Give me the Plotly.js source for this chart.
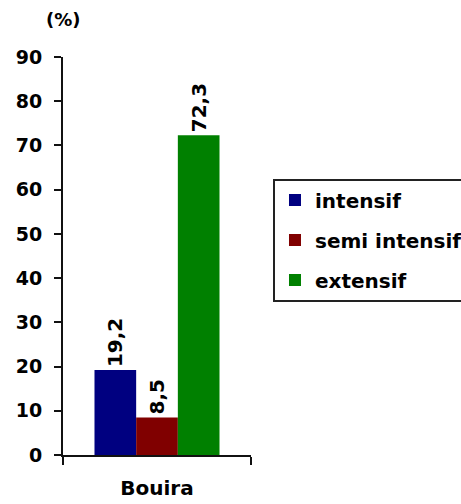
<!DOCTYPE html>
<html>
<head>
<meta charset="utf-8">
<script src="https://cdn.plot.ly/plotly-3.0.1.min.js"></script>
<style>html,body{margin:0;padding:0;background:#fff;}#chart{width:461px;height:504px;}</style>
</head>
<body>
<div id="chart"></div>
<script>
const categories = ['Bouira'];
const seriesNames = ['intensif', 'semi intensif', 'extensif'];
const intensif = [19.2];
const semiIntensif = [8.5];
const extensif = [72.3];
const yTickValues = [0, 10, 20, 30, 40, 50, 60, 70, 80, 90];
const seriesColors = ['#000080', '#800000', '#008000'];

const FONT = 'DejaVu Sans, Arial, sans-serif';
const seriesValues = [intensif, semiIntensif, extensif];

const traces = seriesValues.map((vals, i) => ({
  type: 'bar',
  name: seriesNames[i],
  x: categories,
  y: vals,
  legendgroup: 'g' + i,
  marker: {color: seriesColors[i], line: {width: 0}},
  texttemplate: '%{y:.1f}',
  textposition: 'outside',
  textangle: -90,
  constraintext: 'none',
  cliponaxis: false,
  textfont: {family: FONT, size: 20, color: '#000', weight: 'bold'},
  hoverinfo: 'none'
}));

const layout = {
  width: 461,
  height: 504,
  margin: {l: 63, r: 210, t: 57, b: 49, autoexpand: false},
  paper_bgcolor: '#fff',
  plot_bgcolor: '#fff',
  separators: ', ',
  barmode: 'group',
  bargap: 0.335,
  bargroupgap: 0,
  showlegend: true,
  legend: {
    x: 1.117, xanchor: 'left',
    y: 0.54, yanchor: 'middle',
    traceorder: 'grouped',
    tracegroupgap: 11,
    bordercolor: '#222',
    borderwidth: 2,
    bgcolor: '#fff',
    font: {family: FONT, size: 20, color: '#000', weight: 'bold'}
  },
  xaxis: {
    type: 'category',
    showline: true, linecolor: '#111', linewidth: 2,
    ticks: 'outside', tickson: 'boundaries', ticklen: 8, tickwidth: 2, tickcolor: '#111',
    ticklabelstandoff: 14,
    showgrid: false, zeroline: false,
    tickfont: {family: FONT, size: 20, color: '#000', weight: 'bold'}
  },
  yaxis: {
    range: [0, 90],
    tickvals: yTickValues,
    showline: true, linecolor: '#111', linewidth: 2,
    ticks: 'outside', ticklen: 7, tickwidth: 2, tickcolor: '#111',
    ticklabelstandoff: 8,
    showgrid: false, zeroline: false,
    tickfont: {family: FONT, size: 19, color: '#000', weight: 'bold'}
  },
  annotations: [{
    text: '(%)', xref: 'paper', yref: 'paper', x: 0, y: 1.093,
    xanchor: 'center', yanchor: 'middle', showarrow: false,
    font: {family: FONT, size: 18, color: '#000', weight: 'bold'}
  }]
};

Plotly.newPlot('chart', traces, layout, {staticPlot: true, displayModeBar: false});
</script>
</body>
</html>
